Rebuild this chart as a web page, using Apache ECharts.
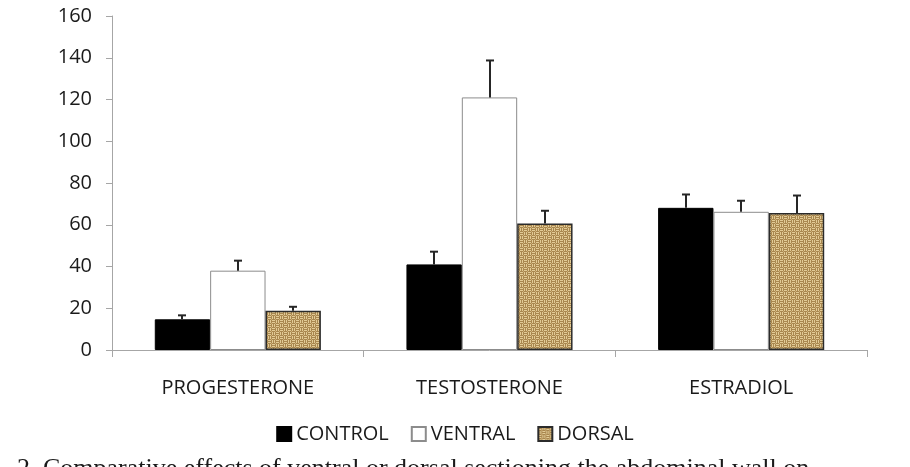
<!DOCTYPE html>
<html>
<head>
<meta charset="utf-8">
<title>Hormones</title>
<script src="https://cdn.jsdelivr.net/npm/echarts@6/dist/echarts.min.js"></script>
<style>
  html, body { margin: 0; padding: 0; background: #fff; }
  #chart { width: 910px; height: 467px; }
</style>
</head>
<body>
<div id="chart"></div>
<script>
// categories and series values
const categories = ['PROGESTERONE', 'TESTOSTERONE', 'ESTRADIOL']
const seriesNames = ['CONTROL', 'VENTRAL', 'DORSAL']
const control = [14.7, 41.0, 68.1]
const ventral = [38.0, 121.0, 66.2]
const dorsal = [18.8, 60.6, 65.6]
// upper error bar (SE)
const controlErr = [1.9, 6.1, 6.4]
const ventralErr = [4.8, 17.7, 5.3]
const dorsalErr = [1.9, 6.1, 8.4]
const yTicks = [0, 20, 40, 60, 80, 100, 120, 140, 160]

const caption = '2. Comparative effects of ventral or dorsal sectioning the abdominal wall on'

const FONT = 'Open Sans'
const CAT_GAP = 0.34

// burlap like texture for the dorsal bars
function burlap () {
  const c = document.createElement('canvas')
  c.width = 8
  c.height = 8
  const g = c.getContext('2d')
  g.fillStyle = '#a9874f'
  g.fillRect(0, 0, 8, 8)
  g.fillStyle = '#e2cb96'
  // cell A: horizontal threads, cell B: vertical threads
  const cellA = (x, y) => { g.fillRect(x, y, 3, 1); g.fillRect(x, y + 2, 3, 1) }
  const cellB = (x, y) => { g.fillRect(x, y, 1, 3); g.fillRect(x + 2, y, 1, 3) }
  cellA(0, 0); cellB(4, 0); cellB(0, 4); cellA(4, 4)
  g.fillStyle = '#c9ab72'
  g.fillRect(3, 3, 1, 1); g.fillRect(7, 7, 1, 1); g.fillRect(3, 7, 1, 1); g.fillRect(7, 3, 1, 1)
  return c
}

const myChart = echarts.init(document.getElementById('chart'))

function errorItem (pos) {
  return function (params, api) {
    const cat = api.value(0)
    const base = api.coord([cat, api.value(1)])
    const tip = api.coord([cat, api.value(2)])
    const band = api.size([1, 0])[0]
    const barW = band * (1 - CAT_GAP) / 3
    const x = Math.round(base[0] + (pos - 1) * barW)
    const style = { stroke: '#262626', lineWidth: 2 }
    return {
      type: 'group',
      children: [
        { type: 'line', shape: { x1: x, y1: base[1], x2: x, y2: tip[1] }, style },
        { type: 'line', shape: { x1: x - 4, y1: tip[1], x2: x + 4, y2: tip[1] }, style }
      ]
    }
  }
}

function errData (vals, errs) {
  return vals.map((v, i) => [i, v, v + errs[i]])
}

const pattern = { image: burlap(), repeat: 'repeat' }

myChart.setOption({
  animation: false,
  textStyle: { fontFamily: FONT },
  grid: {
    left: 112,
    right: 43,
    top: 16,
    bottom: 117
  },
  legend: {
    data: seriesNames,
    bottom: 18,
    left: 'center',
    icon: 'rect',
    itemWidth: 14,
    itemHeight: 14,
    itemGap: 22,
    textStyle: { color: '#1a1a1a', fontSize: 20, fontFamily: FONT }
  },
  xAxis: {
    type: 'category',
    data: categories,
    axisLine: { lineStyle: { color: '#a6a6a6', width: 1 } },
    axisTick: { show: true, length: 7, lineStyle: { color: '#a6a6a6' } },
    axisLabel: { color: '#1a1a1a', fontSize: 20, margin: 28 }
  },
  yAxis: {
    type: 'value',
    min: 0,
    max: yTicks[yTicks.length - 1],
    interval: yTicks[1] - yTicks[0],
    axisLine: { show: true, lineStyle: { color: '#a6a6a6', width: 1 } },
    axisTick: { show: true, length: 6, lineStyle: { color: '#a6a6a6' } },
    splitLine: { show: false },
    axisLabel: { color: '#1a1a1a', fontSize: 20, margin: 20 }
  },
  series: [
    {
      name: 'CONTROL',
      type: 'bar',
      data: control,
      barGap: 0,
      barCategoryGap: (CAT_GAP * 100) + '%',
      itemStyle: { color: '#000', borderColor: '#000', borderWidth: 1 }
    },
    {
      name: 'VENTRAL',
      type: 'bar',
      data: ventral,
      itemStyle: { color: '#fff', borderColor: '#8c8c8c', borderWidth: 1 }
    },
    {
      name: 'DORSAL',
      type: 'bar',
      data: dorsal,
      itemStyle: { color: pattern, borderColor: '#2b2b2b', borderWidth: 1.5 }
    },
    {
      name: 'err-control',
      type: 'custom',
      renderItem: errorItem(0),
      encode: { x: 0, y: [1, 2] },
      data: errData(control, controlErr),
      z: 5
    },
    {
      name: 'err-ventral',
      type: 'custom',
      renderItem: errorItem(1),
      encode: { x: 0, y: [1, 2] },
      data: errData(ventral, ventralErr),
      z: 5
    },
    {
      name: 'err-dorsal',
      type: 'custom',
      renderItem: errorItem(2),
      encode: { x: 0, y: [1, 2] },
      data: errData(dorsal, dorsalErr),
      z: 5
    }
  ],
  graphic: [
    {
      type: 'text',
      left: 17,
      top: 456,
      style: {
        text: caption,
        fill: '#1a1a1a',
        font: '26px "Liberation Serif"'
      }
    }
  ]
})
</script>
</body>
</html>
